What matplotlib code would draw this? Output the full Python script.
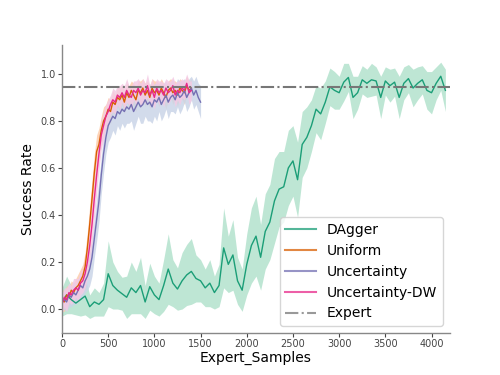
import numpy as np
import matplotlib
matplotlib.use('Agg')
import matplotlib.pyplot as plt

# DAgger, sampled every 50 expert samples
dagger_step = 50
dagger_mean = [0.03, 0.06, 0.04, 0.025, 0.04, 0.055, 0.01, 0.03, 0.02, 0.04,
               0.15, 0.10, 0.08, 0.065, 0.05, 0.09, 0.07, 0.10, 0.03, 0.095,
               0.06, 0.04, 0.10, 0.17, 0.11, 0.085, 0.12, 0.145, 0.16, 0.13,
               0.12, 0.09, 0.11, 0.07, 0.10, 0.26, 0.19, 0.23, 0.12, 0.08,
               0.19, 0.27, 0.31, 0.22, 0.33, 0.37, 0.46, 0.51, 0.52, 0.60,
               0.63, 0.55, 0.70, 0.73, 0.78, 0.85, 0.83, 0.88, 0.945, 0.93,
               0.92, 0.965, 0.985, 0.90, 0.92, 0.975, 0.96, 0.975, 0.97, 0.90,
               0.97, 0.95, 0.965, 0.90, 0.96, 0.98, 0.94, 0.96, 0.975, 0.93,
               0.92, 0.96, 0.99, 0.93]
dagger_std = [0.06, 0.08, 0.06, 0.05, 0.07, 0.08, 0.05, 0.06, 0.05, 0.07,
              0.14, 0.10, 0.08, 0.07, 0.09, 0.11, 0.09, 0.12, 0.07, 0.10,
              0.08, 0.07, 0.11, 0.15, 0.10, 0.09, 0.12, 0.13, 0.14, 0.10,
              0.09, 0.08, 0.10, 0.07, 0.09, 0.17, 0.12, 0.15, 0.10, 0.09,
              0.13, 0.16, 0.17, 0.14, 0.16, 0.16, 0.18, 0.16, 0.15, 0.16,
              0.15, 0.16, 0.14, 0.13, 0.11, 0.10, 0.11, 0.09, 0.08, 0.08,
              0.07, 0.08, 0.06, 0.09, 0.07, 0.06, 0.06, 0.07, 0.06, 0.09,
              0.06, 0.07, 0.06, 0.09, 0.07, 0.06, 0.08, 0.07, 0.06, 0.08,
              0.09, 0.07, 0.06, 0.09]

# active learning variants, sampled every 25 expert samples
al_step = 25
uniform_mean = [0.04, 0.03, 0.06, 0.05, 0.08, 0.07, 0.09, 0.10, 0.12, 0.14,
                0.18, 0.26, 0.36, 0.47, 0.58, 0.67, 0.70, 0.76, 0.80, 0.82,
                0.85, 0.84, 0.88, 0.87, 0.90, 0.89, 0.91, 0.88, 0.92, 0.90,
                0.93, 0.91, 0.89, 0.93, 0.92, 0.94, 0.91, 0.93, 0.90, 0.94,
                0.92, 0.93, 0.91, 0.94, 0.92, 0.90, 0.93, 0.94, 0.92, 0.93,
                0.91, 0.94, 0.93, 0.92, 0.95, 0.93, 0.94]
uniform_std = [0.05, 0.04, 0.04, 0.04, 0.04, 0.04, 0.04, 0.05, 0.05, 0.05,
               0.06, 0.07, 0.08, 0.08, 0.08, 0.07, 0.07, 0.06, 0.06, 0.05,
               0.05, 0.05, 0.05, 0.04, 0.04, 0.05, 0.04, 0.05, 0.04, 0.05,
               0.04, 0.05, 0.05, 0.04, 0.05, 0.04, 0.05, 0.04, 0.05, 0.04,
               0.05, 0.04, 0.05, 0.04, 0.04, 0.05, 0.04, 0.04, 0.05, 0.04,
               0.05, 0.04, 0.04, 0.05, 0.04, 0.04, 0.04]

uncert_mean = [0.03, 0.04, 0.03, 0.06, 0.05, 0.07, 0.06, 0.08, 0.10, 0.09,
               0.12, 0.14, 0.17, 0.22, 0.30, 0.38, 0.46, 0.57, 0.66, 0.73,
               0.78, 0.80, 0.82, 0.81, 0.84, 0.83, 0.85, 0.84, 0.86, 0.85,
               0.87, 0.84, 0.86, 0.88, 0.86, 0.87, 0.89, 0.87, 0.88, 0.86,
               0.89, 0.88, 0.90, 0.87, 0.89, 0.91, 0.88, 0.90, 0.91, 0.89,
               0.92, 0.90, 0.91, 0.93, 0.90, 0.92, 0.94, 0.91, 0.93, 0.90,
               0.88]
uncert_std = [0.04, 0.04, 0.04, 0.05, 0.04, 0.05, 0.04, 0.05, 0.05, 0.05,
              0.05, 0.06, 0.07, 0.08, 0.08, 0.09, 0.09, 0.08, 0.08, 0.07,
              0.07, 0.07, 0.06, 0.07, 0.06, 0.07, 0.06, 0.07, 0.07, 0.06,
              0.07, 0.08, 0.07, 0.06, 0.07, 0.08, 0.07, 0.07, 0.08, 0.07,
              0.07, 0.08, 0.06, 0.07, 0.07, 0.06, 0.07, 0.06, 0.07, 0.06,
              0.06, 0.07, 0.06, 0.05, 0.06, 0.06, 0.05, 0.06, 0.06, 0.06,
              0.07]

uncert_dw_mean = [0.02, 0.05, 0.04, 0.07, 0.06, 0.08, 0.09, 0.08, 0.11, 0.12,
                  0.15, 0.20, 0.27, 0.36, 0.47, 0.57, 0.66, 0.74, 0.78, 0.82,
                  0.84, 0.87, 0.89, 0.88, 0.91, 0.90, 0.92, 0.90, 0.93, 0.91,
                  0.90, 0.93, 0.92, 0.94, 0.91, 0.93, 0.92, 0.95, 0.91, 0.93,
                  0.90, 0.94, 0.92, 0.93, 0.91, 0.94, 0.92, 0.93, 0.95, 0.91,
                  0.93, 0.92, 0.94, 0.93, 0.96, 0.92, 0.93]
uncert_dw_std = [0.04, 0.04, 0.05, 0.04, 0.04, 0.05, 0.04, 0.05, 0.05, 0.05,
                 0.06, 0.07, 0.08, 0.08, 0.08, 0.08, 0.07, 0.06, 0.06, 0.05,
                 0.05, 0.04, 0.05, 0.05, 0.04, 0.05, 0.04, 0.05, 0.05, 0.04,
                 0.05, 0.04, 0.05, 0.04, 0.05, 0.05, 0.04, 0.05, 0.04, 0.05,
                 0.05, 0.04, 0.05, 0.04, 0.05, 0.04, 0.05, 0.04, 0.04, 0.05,
                 0.04, 0.05, 0.04, 0.04, 0.04, 0.05, 0.04]

expert_rate = 0.945

series = [
    ('DAgger', dagger_step, dagger_mean, dagger_std, '#1b9e77', '#b3e2cd'),
    ('Uniform', al_step, uniform_mean, uniform_std, '#d95f02', '#fdcdac'),
    ('Uncertainty', al_step, uncert_mean, uncert_std, '#7570b3', '#cbd5e8'),
    ('Uncertainty-DW', al_step, uncert_dw_mean, uncert_dw_std, '#e7298a', '#f4cae4'),
]

fig = plt.figure(figsize=(5, 3.75), dpi=100)
ax = fig.add_axes([0.124, 0.112, 0.776, 0.768])

for name, step, mean, std, color, fill in series:
    mean = np.array(mean)
    std = np.array(std)
    x = step * np.arange(len(mean))
    ax.fill_between(x, mean - std, mean + std, color=fill, alpha=0.85, linewidth=0)
    ax.plot(x, mean, color=color, lw=1, label=name)

ax.axhline(expert_rate, color='#777777', lw=1.5, ls='-.', label='Expert')

ax.set_xlim(0, 4200)
ax.set_ylim(-0.102, 1.123)
ax.set_xticks(np.arange(0, 4001, 500))
ax.set_yticks(np.arange(0, 1.01, 0.2))
ax.set_xlabel('Expert_Samples', fontsize=10, labelpad=1)
ax.set_ylabel('Success Rate', fontsize=10)
ax.tick_params(labelsize=7, colors='#444444', length=3, width=0.8, pad=1.5)
for s in ['top', 'right']:
    ax.spines[s].set_visible(False)
for s in ['left', 'bottom']:
    ax.spines[s].set_color('#888888')
    ax.spines[s].set_linewidth(1)

leg = ax.legend(loc='lower right', fontsize=10, handlelength=2.2)
for h in leg.legend_handles:
    h.set_alpha(0.75)
    h.set_linewidth(1.5)

fig.savefig('out.png', dpi=100)
